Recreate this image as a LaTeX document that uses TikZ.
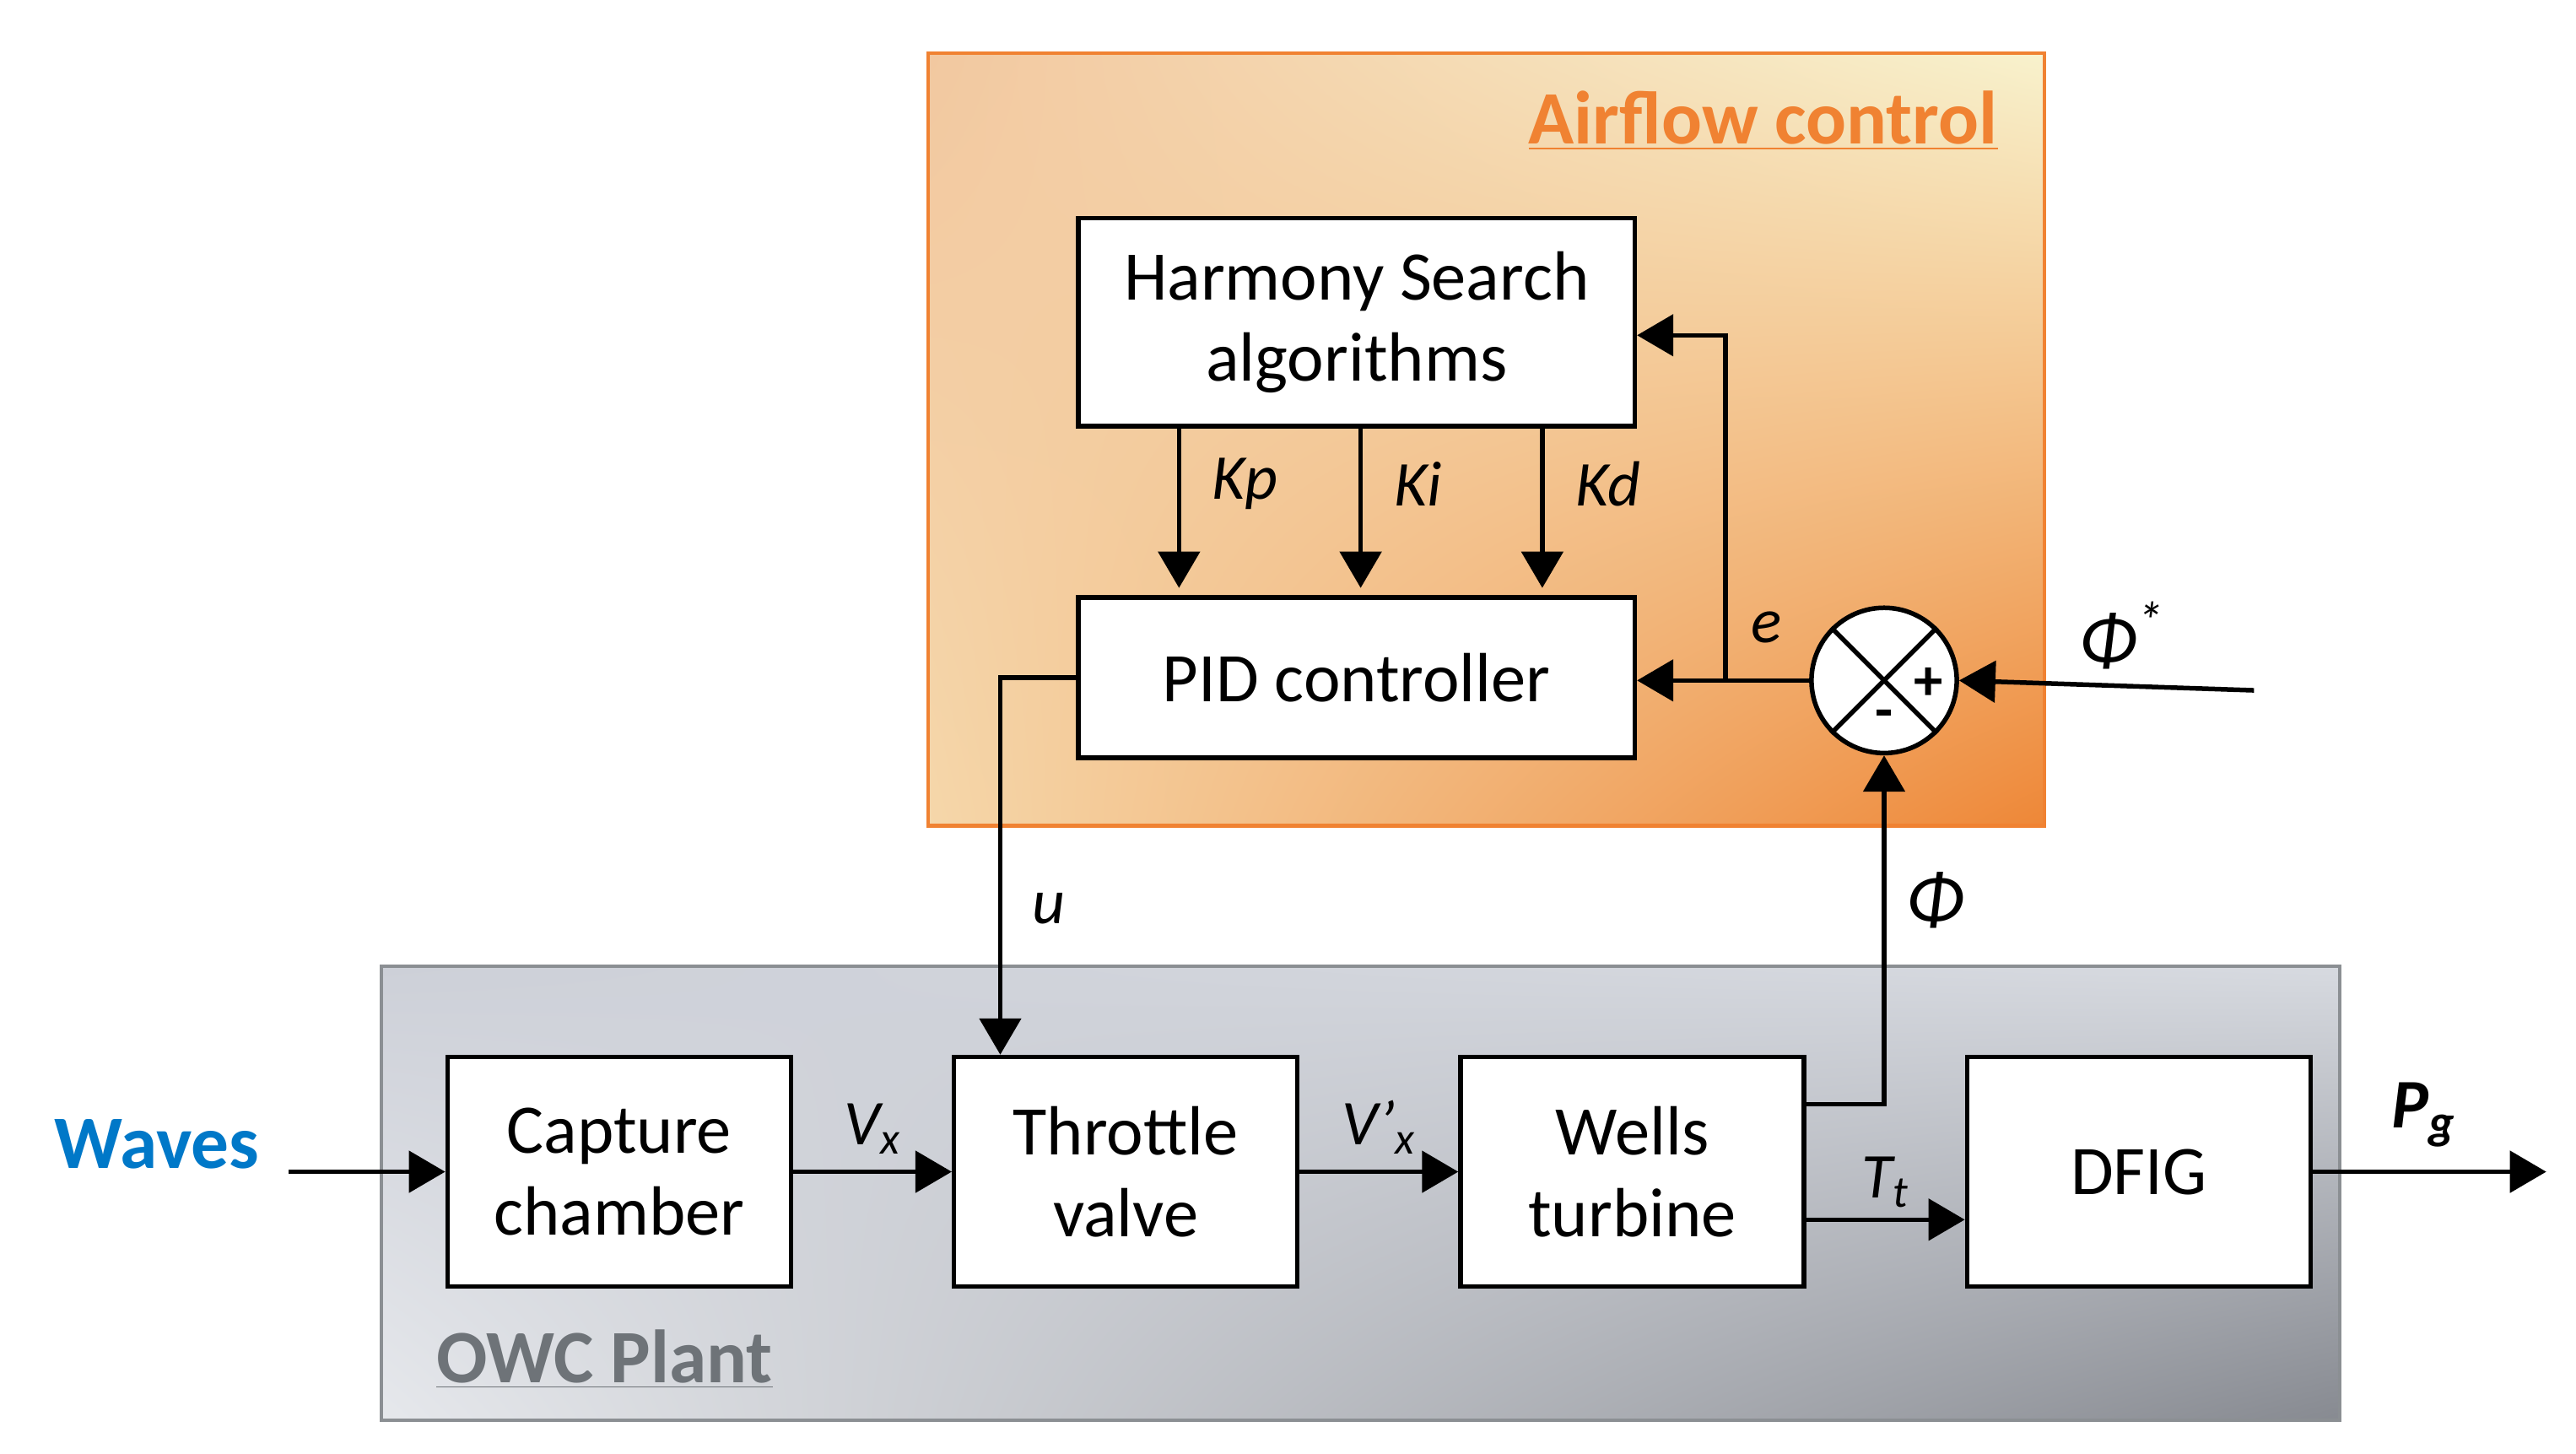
\documentclass[tikz,border=0pt]{standalone}
\usepackage{fontspec}
\setmainfont{Carlito}
\usetikzlibrary{arrows.meta, positioning, calc, shadings}
\definecolor{afline}{RGB}{240,130,50}
\definecolor{afUL}{RGB}{242,200,160}
\definecolor{afUR}{RGB}{248,242,205}
\definecolor{afLL}{RGB}{245,215,170}
\definecolor{afLR}{RGB}{238,135,55}
\definecolor{owUL}{RGB}{205,208,216}
\definecolor{owUR}{RGB}{215,218,224}
\definecolor{owLL}{RGB}{230,232,236}
\definecolor{owLR}{RGB}{135,138,145}
\definecolor{owcgrey}{RGB}{110,115,120}
\definecolor{waveblue}{RGB}{0,120,200}
\tikzset{
  blk/.style={draw, line width=1.6pt, fill=white, align=center, font=\fontsize{24}{28}\selectfont, inner sep=0pt},
  sig/.style={line width=1.6pt, -{Triangle[length=0.44cm, width=0.5cm]}},
  lbl/.style={font=\fontsize{22}{26}\selectfont\itshape}
}
\begin{document}
\begin{tikzpicture}[x=0.02cm, y=-0.02cm]
        \useasboundingbox (0,0) rectangle (1560,880);
        % frames
        \shade [upper left=afUL, upper right=afUR, lower left=afLL, lower right=afLR] (562,32) rectangle (1238,500);
        \draw [afline, line width=1.2pt] (562,32) rectangle (1238,500);
        \shade [upper left=owUL, upper right=owUR, lower left=owLL, lower right=owLR] (231,585) rectangle (1417,860);
        \draw [owcgrey!80, line width=1.2pt] (231,585) rectangle (1417,860);
        \node [anchor=east, text=afline, font=\fontsize{26}{30}\selectfont\bfseries] (aftitle) at (1216,73) {\underline{Airflow control}};
        \node [anchor=west, text=owcgrey, font=\fontsize{26}{30}\selectfont\bfseries] (owctitle) at (258,823) {\underline{OWC Plant}};

        % controller
        \node [blk, minimum width=6.74cm, minimum height=2.52cm] (HS) at (821.5,195) {Harmony Search\\algorithms};
        \node [blk, minimum width=6.74cm, minimum height=1.94cm, below=2.02cm of HS] (PID) {PID controller};
        \node [draw, circle, line width=1.6pt, fill=white, minimum size=1.76cm, inner sep=0pt] (S) at (1141,412) {};
        \draw [line width=1.6pt] (S.45) -- (S.225) (S.135) -- (S.-45);
        \node [font=\fontsize{20}{24}\selectfont\bfseries] at ($(S.center)+(27,2)$) {+};
        \node [font=\fontsize{20}{24}\selectfont\bfseries] at ($(S.center)+(0,24)$) {-};

        % plant
        \node [blk, minimum width=4.16cm, minimum height=2.78cm] (CC) at (375,709.5) {Capture\\chamber};
        \node [blk, minimum width=4.16cm, minimum height=2.78cm, right=1.92cm of CC] (TV) {Throttle\\valve};
        \node [blk, minimum width=4.16cm, minimum height=2.78cm, right=1.92cm of TV] (WT) {Wells\\turbine};
        \node [blk, minimum width=4.16cm, minimum height=2.78cm, right=1.92cm of WT] (DF) {DFIG};

        \node [text=waveblue, font=\fontsize{26}{30}\selectfont\bfseries] (W) at (95,693) {Waves};
        \coordinate (Win) at (175,709.5);
        \coordinate (Pout) at (1542,709.5);
        \coordinate (Ref) at (1365,418);

        % gains
        \foreach \xx/\kk/\ss in {714/p/Kp, 824/i/Ki, 934/d/Kd} {
          \draw [sig] (\xx,258) -- (\xx,356);
          \node [lbl, anchor=west] (\ss) at (\xx+14,293) {K\kk};
        }

        % connectors
        \draw [sig] (Win) -- (CC);
        \draw [sig] (CC) -- node [lbl, above=2pt] (Vx) {V\textsubscript{x}} (TV);
        \draw [sig] (TV) -- node [lbl, above=2pt] (Vpx) {V’\textsubscript{x}} (WT);
        \draw [sig] ([yshift=-0.58cm]WT.east) -- node [lbl, above=0pt] (Tt) {T\textsubscript{t}} ([yshift=-0.58cm]DF.west);
        \draw [sig] (DF) -- (Pout);
        \node [font=\fontsize{24}{28}\selectfont\bfseries\itshape] (Pg) at (1468,675) {P\textsubscript{g}};
        \draw [sig] ([yshift=0.82cm]WT.east) -| (S.south);
        \node [font=\fontsize{26}{30}\selectfont\itshape] (phi) at (1172,545) {Φ};
        \draw [sig] (Ref) -- (S.east);
        \node [font=\fontsize{26}{30}\selectfont\itshape] (phiref) at (1285,385) {Φ\textsuperscript{*}};
        \draw [sig] (S.west) -- (PID.east |- S.west);
        \draw [sig] (1045,412) |- ([yshift=-0.16cm]HS.east);
        \node [lbl] (e) at (1070,380) {e};
        \draw [sig] (PID.west) -| ($(TV.north)+(-76,0)$);
        \node [lbl] (u) at (635,550) {u};
\end{tikzpicture}
\end{document}
